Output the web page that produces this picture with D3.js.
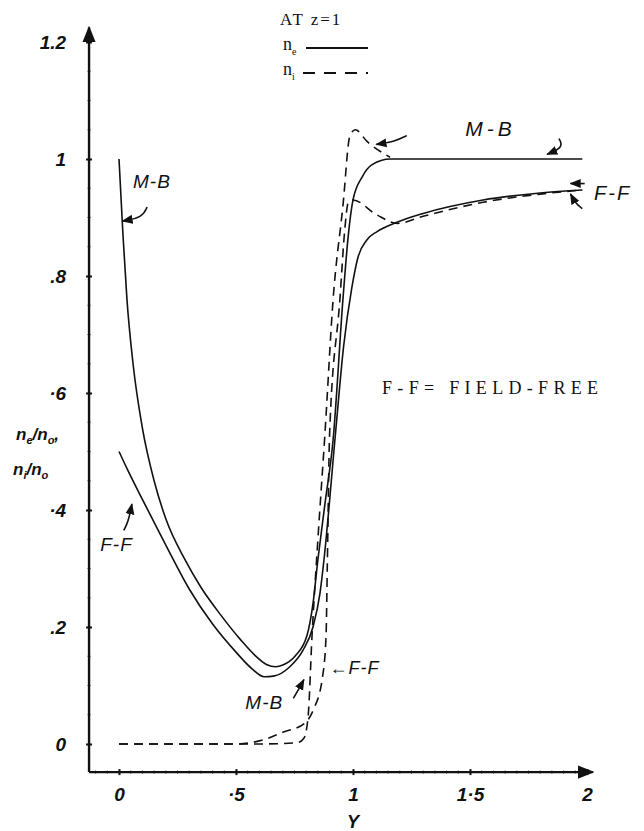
<!DOCTYPE html>
<html>
<head>
<meta charset="utf-8">
<script src="https://cdn.jsdelivr.net/npm/d3@7/dist/d3.min.js"></script>
<style>
  html, body { margin: 0; padding: 0; background: #fff; }
  svg { display: block; }
  .hand { font-family: "Liberation Sans", "DejaVu Sans", sans-serif; font-style: italic; fill: #111; }
  .typed { font-family: "Liberation Serif", "DejaVu Serif", serif; fill: #111; }
</style>
</head>
<body>
<div id="chart"></div>
<script>
// tick values and their hand-written labels
var yTicks = [0, 0.2, 0.4, 0.6, 0.8, 1.0, 1.2];
var yTickLabels = ["0", ".2", "·4", "·6", ".8", "1", "1.2"];
var xTicks = [0, 0.5, 1, 1.5, 2];
var xTickLabels = ["0", "·5", "1", "1·5", "2"];

// [Y, n/n0]
var neMB = [[0, 1.0], [0.017, 0.87], [0.034, 0.76], [0.06, 0.65], [0.1, 0.54], [0.15, 0.45],
  [0.2, 0.385], [0.282, 0.315], [0.35, 0.268], [0.432, 0.222], [0.52, 0.178], [0.58, 0.152],
  [0.63, 0.136], [0.67, 0.132], [0.7, 0.135], [0.752, 0.15], [0.803, 0.185], [0.829, 0.24],
  [0.85, 0.315], [0.88, 0.41], [0.915, 0.52], [0.957, 0.76], [0.98, 0.87], [1.0, 0.93],
  [1.04, 0.97], [1.08, 0.99], [1.16, 1.0], [1.5, 1.0], [1.98, 1.0]];

var neFF = [[0, 0.5], [0.04, 0.466], [0.1, 0.418], [0.2, 0.34], [0.3, 0.265], [0.4, 0.205],
  [0.5, 0.157], [0.57, 0.128], [0.62, 0.115], [0.66, 0.116], [0.73, 0.132], [0.786, 0.16],
  [0.829, 0.2], [0.859, 0.258], [0.876, 0.315], [0.925, 0.53], [0.96, 0.68], [0.995, 0.78],
  [1.02, 0.83], [1.06, 0.862], [1.103, 0.876], [1.188, 0.892], [1.3, 0.907], [1.556, 0.93],
  [1.8, 0.942], [1.98, 0.947]];

var niMB = [[0, 0], [0.3, 0], [0.6, 0], [0.76, 0.002], [0.79, 0.01], [0.808, 0.046],
  [0.825, 0.186], [0.85, 0.35], [0.88, 0.53], [0.915, 0.76], [0.957, 0.92], [0.987, 1.04],
  [1.01, 1.05], [1.06, 1.03], [1.158, 1.003]];

var niFF = [[0, 0], [0.5, 0], [0.615, 0.007], [0.7, 0.02], [0.795, 0.036], [0.83, 0.058],
  [0.87, 0.115], [0.885, 0.186], [0.89, 0.3], [0.9, 0.53], [0.944, 0.76], [0.965, 0.88],
  [0.98, 0.926], [1.0, 0.93], [1.1, 0.905], [1.19, 0.89], [1.3, 0.902], [1.556, 0.926],
  [1.8, 0.94], [1.98, 0.947]];

var width = 644, height = 831;

var x = d3.scaleLinear().domain([0, 2]).range([119, 587]);
var y = d3.scaleLinear().domain([0, 1]).range([744, 159]);

// where the hand-drawn axes sit, in data units
var axisX0 = -0.128, axisY0 = -0.048, axisXEnd = 2.025, axisYEnd = 1.225;

var svg = d3.select("#chart").append("svg")
  .attr("width", width).attr("height", height);

svg.append("defs").append("marker")
  .attr("id", "arr").attr("viewBox", "0 0 10 10")
  .attr("refX", 9).attr("refY", 5)
  .attr("markerWidth", 7).attr("markerHeight", 7)
  .attr("orient", "auto")
  .append("path").attr("d", "M0,1 L10,5 L0,9 Z").attr("fill", "#111");

// ---- axes
var yAxis = d3.axisLeft(y).tickValues(yTicks)
  .tickFormat(function(d, i) { return yTickLabels[i]; })
  .tickSize(3).tickPadding(20);
var gy = svg.append("g").attr("transform", "translate(" + x(axisX0) + ",0)").call(yAxis);
gy.select(".domain").remove();
gy.selectAll(".tick line").attr("x1", -3).attr("x2", 3).attr("stroke", "#111").attr("stroke-width", 2);
gy.selectAll(".tick text").attr("class", "hand").style("font-size", "19px")
  .style("font-weight", "bold").attr("dy", "0.35em");

var xAxis = d3.axisBottom(x).tickValues(xTicks)
  .tickFormat(function(d, i) { return xTickLabels[i]; })
  .tickSize(3).tickPadding(12);
var gx = svg.append("g").attr("transform", "translate(0," + y(axisY0) + ")").call(xAxis);
gx.select(".domain").remove();
gx.selectAll(".tick line").attr("y1", -3).attr("y2", 3).attr("stroke", "#111").attr("stroke-width", 2);
gx.selectAll(".tick text").attr("class", "hand").style("font-size", "19px").style("font-weight", "bold");

// minor graph-paper ticks
var minorY = d3.range(0, 1.2, 0.05);
svg.append("g").selectAll("line").data(minorY).join("line")
  .attr("x1", x(axisX0) - 1.5).attr("x2", x(axisX0) + 1.5)
  .attr("y1", function(d) { return y(d); }).attr("y2", function(d) { return y(d); })
  .attr("stroke", "#333").attr("stroke-width", 1);
var minorX = d3.range(-0.1, 2, 0.05);
svg.append("g").selectAll("line").data(minorX).join("line")
  .attr("y1", y(axisY0) - 1.5).attr("y2", y(axisY0) + 1.5)
  .attr("x1", function(d) { return x(d); }).attr("x2", function(d) { return x(d); })
  .attr("stroke", "#333").attr("stroke-width", 1);

svg.append("line")
  .attr("x1", x(axisX0)).attr("y1", y(axisY0))
  .attr("x2", x(axisX0)).attr("y2", y(axisYEnd))
  .attr("stroke", "#111").attr("stroke-width", 2.4).attr("marker-end", "url(#arr)");
svg.append("line")
  .attr("x1", x(axisX0)).attr("y1", y(axisY0))
  .attr("x2", x(axisXEnd)).attr("y2", y(axisY0))
  .attr("stroke", "#111").attr("stroke-width", 2.4).attr("marker-end", "url(#arr)");

// axis titles
var ylab = svg.append("text").attr("class", "hand").style("font-size", "17px")
  .style("font-weight", "bold").attr("x", 16).attr("y", 440);
ylab.append("tspan").text("n");
ylab.append("tspan").attr("dy", 4).style("font-size", "11px").text("e");
ylab.append("tspan").attr("dy", -4).text("/n");
ylab.append("tspan").attr("dy", 4).style("font-size", "11px").text("o");
ylab.append("tspan").attr("dy", -4).text(",");
var ylab2 = svg.append("text").attr("class", "hand").style("font-size", "17px")
  .style("font-weight", "bold").attr("x", 13).attr("y", 475);
ylab2.append("tspan").text("n");
ylab2.append("tspan").attr("dy", 4).style("font-size", "11px").text("i");
ylab2.append("tspan").attr("dy", -4).text("/n");
ylab2.append("tspan").attr("dy", 4).style("font-size", "11px").text("o");

svg.append("text").attr("class", "hand").style("font-size", "18px").style("font-weight", "bold")
  .attr("x", x(1)).attr("y", 828).attr("text-anchor", "middle").text("Y");

// ---- curves
var line = d3.line()
  .x(function(d) { return x(d[0]); })
  .y(function(d) { return y(d[1]); })
  .curve(d3.curveMonotoneX);

var series = [
  { data: neMB, dash: null },
  { data: neFF, dash: null },
  { data: niMB, dash: "9,6" },
  { data: niFF, dash: "9,6" }
];
svg.append("g").selectAll("path").data(series).join("path")
  .attr("d", function(d) { return line(d.data); })
  .attr("fill", "none").attr("stroke", "#111").attr("stroke-width", 1.6)
  .attr("stroke-dasharray", function(d) { return d.dash; });

// ---- legend
svg.append("text").attr("class", "typed").style("font-size", "17px")
  .attr("x", 280).attr("y", 25).style("letter-spacing", "2px").text("AT z=1");
var le = svg.append("text").attr("class", "typed").style("font-size", "18px").attr("x", 283).attr("y", 50);
le.append("tspan").text("n");
le.append("tspan").attr("dy", 5).style("font-size", "10px").text("e");
svg.append("line").attr("x1", 306).attr("x2", 368).attr("y1", 48).attr("y2", 48)
  .attr("stroke", "#111").attr("stroke-width", 1.8);
var li = svg.append("text").attr("class", "typed").style("font-size", "18px").attr("x", 283).attr("y", 75);
li.append("tspan").text("n");
li.append("tspan").attr("dy", 5).style("font-size", "10px").text("i");
svg.append("line").attr("x1", 303).attr("x2", 368).attr("y1", 73).attr("y2", 73)
  .attr("stroke", "#111").attr("stroke-width", 1.8).attr("stroke-dasharray", "12,9");

// ---- annotations
function note(tx, ty, s, size, spacing) {
  svg.append("text").attr("class", "hand").style("font-size", (size || 18) + "px")
    .style("letter-spacing", (spacing || 0) + "px")
    .attr("x", x(tx)).attr("y", y(ty)).text(s);
}
function arrow(pts) {
  svg.append("path")
    .attr("d", d3.line().curve(d3.curveBasis)(pts.map(function(p) { return [x(p[0]), y(p[1])]; })))
    .attr("fill", "none").attr("stroke", "#111").attr("stroke-width", 1.6)
    .attr("marker-end", "url(#arr)");
}
note(0.06, 0.95, "M-B", 19, 1);
arrow([[0.12, 0.918], [0.1, 0.9], [0.015, 0.894]]);
note(-0.08, 0.33, "F-F", 19, 1);
arrow([[0.02, 0.365], [0.04, 0.38], [0.055, 0.41]]);
note(1.48, 1.04, "M-B", 21, 4);
arrow([[1.88, 1.035], [1.9, 1.02], [1.83, 1.008]]);
arrow([[1.23, 1.04], [1.18, 1.03], [1.1, 1.025]]);
note(2.03, 0.93, "F-F", 20, 2);
arrow([[1.99, 0.958], [1.93, 0.958]]);
arrow([[1.98, 0.915], [1.95, 0.925], [1.93, 0.94]]);
note(0.54, 0.06, "M-B", 19, 1);
arrow([[0.745, 0.078], [0.77, 0.095], [0.79, 0.11]]);
note(0.9, 0.12, "←F-F", 18, 1);

svg.append("text").attr("class", "typed").style("font-size", "18px")
  .attr("x", 382).attr("y", 394).attr("textLength", 216).attr("lengthAdjust", "spacing")
  .text("F-F= FIELD-FREE");
</script>
</body>
</html>
